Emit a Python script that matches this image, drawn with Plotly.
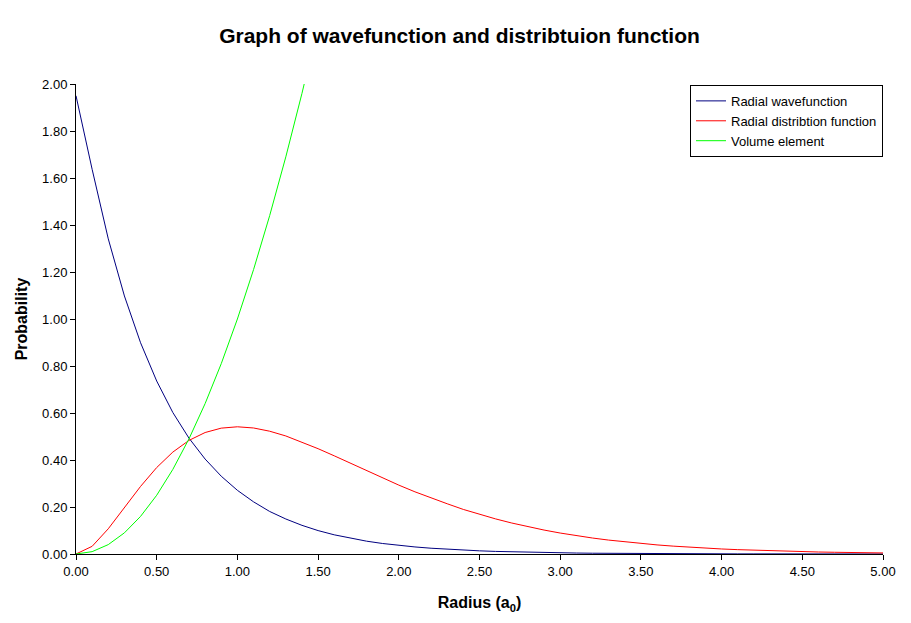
import plotly.graph_objects as go

# radius values (a0), step 0.1
radius = [0.0, 0.1, 0.2, 0.3, 0.4, 0.5, 0.6, 0.7, 0.8, 0.9,
          1.0, 1.1, 1.2, 1.3, 1.4, 1.5, 1.6, 1.7, 1.8, 1.9,
          2.0, 2.1, 2.2, 2.3, 2.4, 2.5, 2.6, 2.7, 2.8, 2.9,
          3.0, 3.1, 3.2, 3.3, 3.4, 3.5, 3.6, 3.7, 3.8, 3.9,
          4.0, 4.1, 4.2, 4.3, 4.4, 4.5, 4.6, 4.7, 4.8, 4.9, 5.0]

wavefunction = [1.95, 1.637, 1.341, 1.098, 0.899, 0.736, 0.602, 0.493, 0.404, 0.331,
                0.271, 0.222, 0.181, 0.149, 0.122, 0.0996, 0.0816, 0.0667, 0.0546, 0.0447,
                0.0366, 0.0300, 0.0246, 0.0201, 0.0165, 0.0135, 0.0110, 0.0090, 0.0074, 0.0061,
                0.0050, 0.0041, 0.0033, 0.0027, 0.0022, 0.0018, 0.0015, 0.0012, 0.0010, 0.0008,
                0.0007, 0.0005, 0.0005, 0.0004, 0.0003, 0.0002, 0.0002, 0.0002, 0.0001, 0.0001, 0.0001]

distribution = [0.0, 0.0327, 0.1073, 0.1976, 0.2876, 0.3679, 0.4337, 0.4834, 0.5169, 0.5356,
                0.5413, 0.5363, 0.5225, 0.5023, 0.4767, 0.4481, 0.4178, 0.3861, 0.3538, 0.3235,
                0.2931, 0.2646, 0.2381, 0.2137, 0.1896, 0.1685, 0.1493, 0.1318, 0.1160, 0.1019,
                0.0892, 0.0780, 0.0680, 0.0592, 0.0513, 0.0447, 0.0387, 0.0335, 0.0289, 0.0249,
                0.0214, 0.0185, 0.0159, 0.0136, 0.0117, 0.0100, 0.0085, 0.0073, 0.0062, 0.0053, 0.0045]

# volume element only shown until it leaves the top of the chart
volume_radius = radius[:16]
volume = [0.0, 0.01, 0.04, 0.09, 0.16, 0.25, 0.36, 0.49, 0.64, 0.81,
          1.00, 1.21, 1.44, 1.69, 1.96, 2.25]

fig = go.Figure()

fig.add_trace(go.Scatter(x=radius, y=wavefunction, mode='lines',
                         name='Radial wavefunction',
                         line=dict(color='#000080', width=1)))
fig.add_trace(go.Scatter(x=radius, y=distribution, mode='lines',
                         name='Radial distribtion function',
                         line=dict(color='#FF0000', width=1)))
fig.add_trace(go.Scatter(x=volume_radius, y=volume, mode='lines',
                         name='Volume element',
                         line=dict(color='#00FF00', width=1)))

# page body has an 8px margin, so the figure is a little smaller than the window
fig.update_layout(
    width=903, height=615,
    paper_bgcolor='white', plot_bgcolor='white',
    font=dict(family='Liberation Sans, Arial', size=12, color='black'),
    title=dict(text='<b>Graph of wavefunction and distribtuion function</b>',
               x=0.5, xanchor='center', y=0.955, yanchor='middle',
               font=dict(size=21)),
    margin=dict(l=68, r=28, t=76, b=69),
    showlegend=True,
    legend=dict(x=1.0, y=0.998, xanchor='right', yanchor='top',
                bordercolor='black', borderwidth=1, bgcolor='white',
                font=dict(size=13), itemwidth=30, tracegroupgap=0),
    xaxis=dict(range=[0, 5], dtick=0.5, tick0=0, tickformat='.2f',
               showgrid=False, zeroline=False, showline=True,
               linecolor='black', linewidth=1,
               ticks='outside', ticklen=5, tickcolor='black',
               tickfont=dict(size=13),
               title=dict(text='<b>Radius (a<sub>0</sub>)</b>',
                          font=dict(size=16), standoff=19)),
    yaxis=dict(range=[0, 2], dtick=0.2, tick0=0, tickformat='.2f',
               showgrid=False, zeroline=False, showline=True,
               linecolor='black', linewidth=1,
               ticks='outside', ticklen=5, tickcolor='black',
               tickfont=dict(size=13),
               title=dict(text='<b>Probability</b>',
                          font=dict(size=16), standoff=10)),
)

fig.write_html("out.html")
